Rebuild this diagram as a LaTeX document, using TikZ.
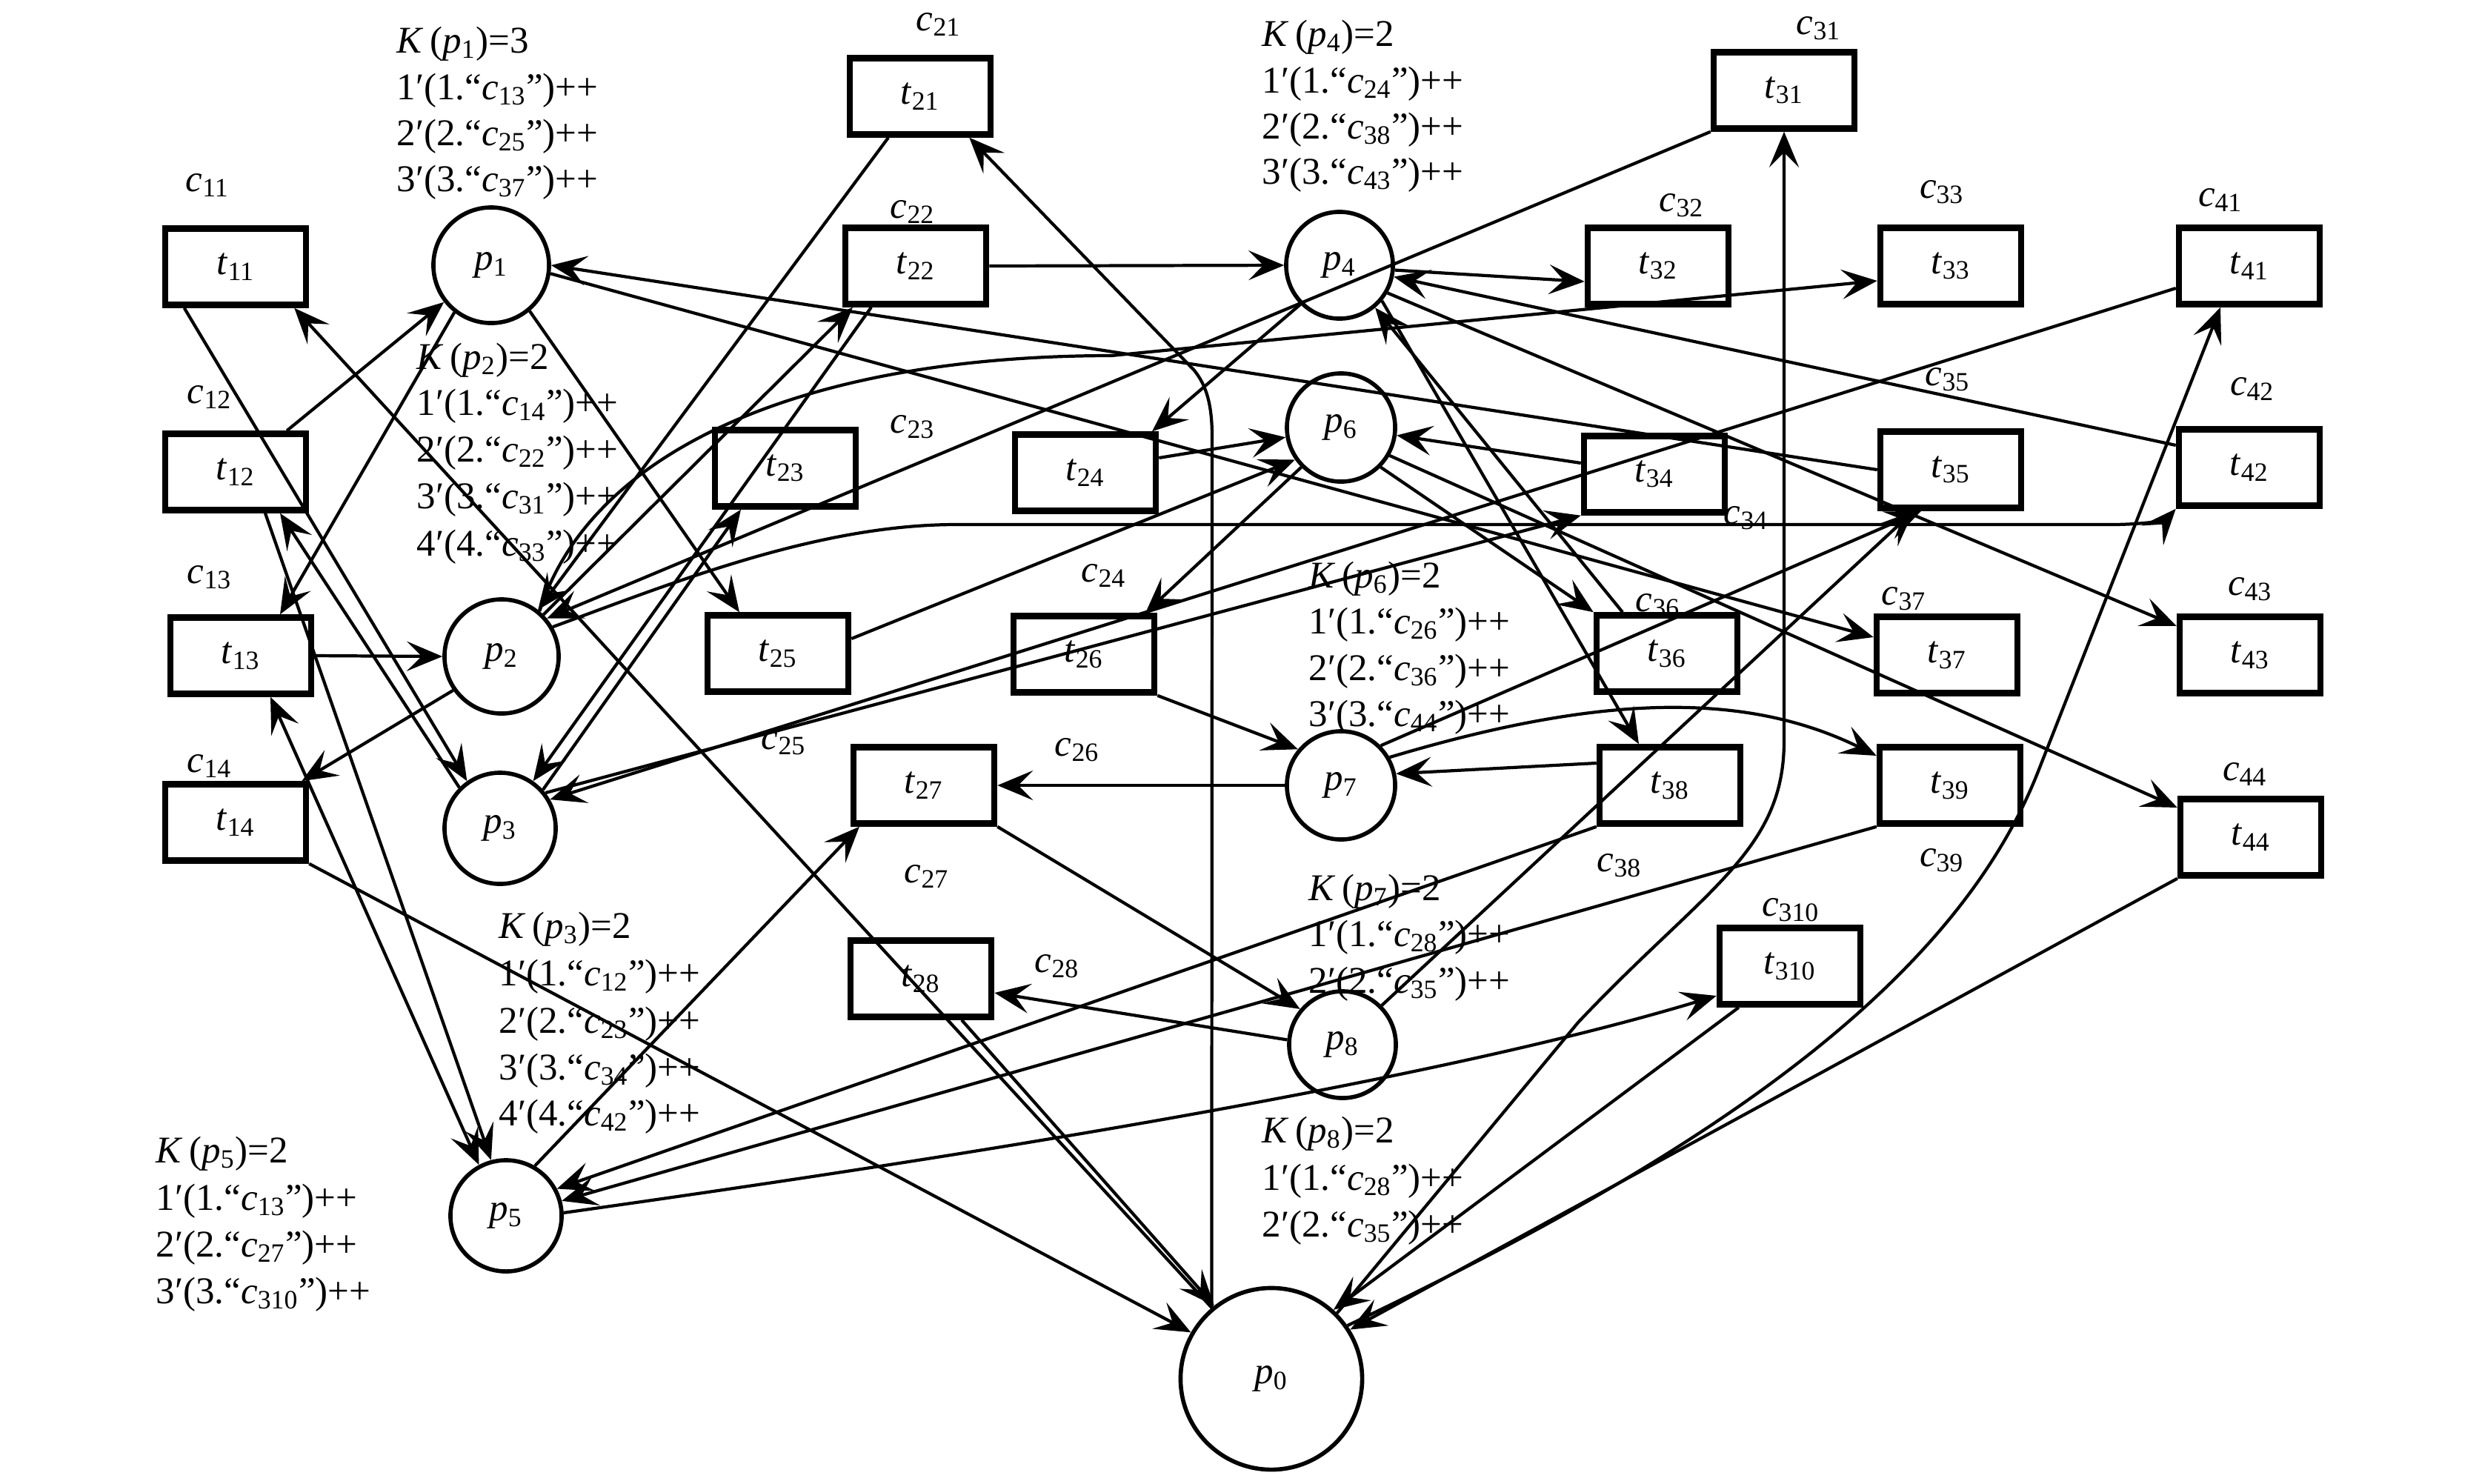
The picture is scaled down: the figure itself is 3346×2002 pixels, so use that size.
\documentclass[tikz,border=0pt]{standalone}
\usepackage{fontspec}
\setmainfont{Liberation Serif}
\usetikzlibrary{arrows.meta}
\newcommand\Tn[1]{\textit{t}\textsubscript{#1}}
\newcommand\Pn[1]{\textit{p}\textsubscript{#1}}
\newcommand\Cn[1]{\textit{c}\textsubscript{#1}}
\newcommand\Kl[2]{\textit{K}\,(\textit{p}\textsubscript{#1})=#2}
\newcommand\Ml[2]{#1′(#1.“\textit{c}\textsubscript{#2}”)++}
\begin{document}
\begin{tikzpicture}[x=0.01cm,y=-0.01cm,
  every node/.style={font=\fontsize{14.5}{17}\selectfont},
  trans/.style={draw, line width=2.4pt, minimum width=1.9cm, minimum height=1.03cm, inner sep=0pt},
  place/.style={draw, circle, line width=1.6pt, minimum size=1.5cm, inner sep=0pt},
  lab/.style={inner sep=0pt},
  ktxt/.style={anchor=base west, inner sep=0pt},
  arr/.style={line width=1.2pt, -{Stealth[length=0.48cm,width=0.4cm,inset=0.2cm]}},
  arrb/.style={line width=1.2pt, {Stealth[length=0.48cm,width=0.4cm,inset=0.2cm]}-{Stealth[length=0.48cm,width=0.4cm,inset=0.2cm]}}]
\useasboundingbox (0,0) rectangle (3346,2002);
\fill[white] (0,0) rectangle (3346,2002);
% transitions
\node[trans] (t11) at (318,360) {\Tn{11}};
\node[trans] (t12) at (318,637) {\Tn{12}};
\node[trans] (t13) at (325,885) {\Tn{13}};
\node[trans] (t14) at (318,1110) {\Tn{14}};
\node[trans] (t21) at (1242,130) {\Tn{21}};
\node[trans] (t22) at (1236,359) {\Tn{22}};
\node[trans] (t23) at (1060,632) {\Tn{23}};
\node[trans] (t24) at (1465,638) {\Tn{24}};
\node[trans] (t25) at (1050,882) {\Tn{25}};
\node[trans] (t26) at (1463,883) {\Tn{26}};
\node[trans] (t27) at (1247,1060) {\Tn{27}};
\node[trans] (t28) at (1243,1321) {\Tn{28}};
\node[trans] (t31) at (2408,122) {\Tn{31}};
\node[trans] (t32) at (2238,359) {\Tn{32}};
\node[trans] (t33) at (2633,359) {\Tn{33}};
\node[trans] (t34) at (2233,640) {\Tn{34}};
\node[trans] (t35) at (2633,634) {\Tn{35}};
\node[trans] (t36) at (2250,882) {\Tn{36}};
\node[trans] (t37) at (2628,884) {\Tn{37}};
\node[trans] (t38) at (2254,1060) {\Tn{38}};
\node[trans] (t39) at (2632,1060) {\Tn{39}};
\node[trans] (t310) at (2416,1304) {\Tn{310}};
\node[trans] (t41) at (3036,359) {\Tn{41}};
\node[trans] (t42) at (3036,631) {\Tn{42}};
\node[trans] (t43) at (3037,884) {\Tn{43}};
\node[trans] (t44) at (3038,1130) {\Tn{44}};
% places
\node[place, minimum size=1.56cm] (p1) at (663,358) {\Pn{1}};
\node[place, minimum size=1.54cm] (p2) at (677,886) {\Pn{2}};
\node[place] (p3) at (675,1118) {\Pn{3}};
\node[place] (p5) at (683,1641) {\Pn{5}};
\node[place, minimum size=1.44cm] (p4) at (1808,358) {\Pn{4}};
\node[place, minimum size=1.46cm] (p6) at (1810,577) {\Pn{6}};
\node[place, minimum size=1.46cm] (p7) at (1810,1060) {\Pn{7}};
\node[place, minimum size=1.44cm] (p8) at (1812,1410) {\Pn{8}};
\node[place, minimum size=2.45cm] (p0) at (1716,1861) {\Pn{0}};
% colour labels
\node[lab] (c11) at (280,250) {\Cn{11}};
\node[lab] (c12) at (283,536) {\Cn{12}};
\node[lab] (c13) at (283,779) {\Cn{13}};
\node[lab] (c14) at (283,1034) {\Cn{14}};
\node[lab] (c21) at (1267,33) {\Cn{21}};
\node[lab] (c22) at (1232,286) {\Cn{22}};
\node[lab] (c23) at (1232,576) {\Cn{23}};
\node[lab] (c24) at (1490,777) {\Cn{24}};
\node[lab] (c25) at (1058,1003) {\Cn{25}};
\node[lab] (c26) at (1454,1012) {\Cn{26}};
\node[lab] (c27) at (1251,1183) {\Cn{27}};
\node[lab] (c28) at (1427,1304) {\Cn{28}};
\node[lab] (c31) at (2455,38) {\Cn{31}};
\node[lab] (c32) at (2270,277) {\Cn{32}};
\node[lab] (c33) at (2621,259) {\Cn{33}};
\node[lab] (c34) at (2357,699) {\Cn{34}};
\node[lab] (c35) at (2629,512) {\Cn{35}};
\node[lab] (c36) at (2238,817) {\Cn{36}};
\node[lab] (c37) at (2570,808) {\Cn{37}};
\node[lab] (c38) at (2186,1168) {\Cn{38}};
\node[lab] (c39) at (2621,1161) {\Cn{39}};
\node[lab] (c310) at (2417,1228) {\Cn{310}};
\node[lab] (c41) at (2997,270) {\Cn{41}};
\node[lab] (c42) at (3040,525) {\Cn{42}};
\node[lab] (c43) at (3037,795) {\Cn{43}};
\node[lab] (c44) at (3030,1045) {\Cn{44}};
% capacity / marking texts
\node[ktxt] (k1a) at (535,71) {\Kl{1}{3}};
\node[ktxt] (k1b) at (535,134) {\Ml{1}{13}};
\node[ktxt] (k1c) at (535,196) {\Ml{2}{25}};
\node[ktxt] (k1d) at (535,258) {\Ml{3}{37}};
\node[ktxt] (k2a) at (562,498) {\Kl{2}{2}};
\node[ktxt] (k2b) at (562,560) {\Ml{1}{14}};
\node[ktxt] (k2c) at (562,623) {\Ml{2}{22}};
\node[ktxt] (k2d) at (562,686) {\Ml{3}{31}};
\node[ktxt] (k2e) at (562,750) {\Ml{4}{33}};
\node[ktxt] (k3a) at (673,1266) {\Kl{3}{2}};
\node[ktxt] (k3b) at (673,1330) {\Ml{1}{12}};
\node[ktxt] (k3c) at (673,1394) {\Ml{2}{23}};
\node[ktxt] (k3d) at (673,1457) {\Ml{3}{34}};
\node[ktxt] (k3e) at (673,1519) {\Ml{4}{42}};
\node[ktxt] (k4a) at (1703,62) {\Kl{4}{2}};
\node[ktxt] (k4b) at (1703,125) {\Ml{1}{24}};
\node[ktxt] (k4c) at (1703,187) {\Ml{2}{38}};
\node[ktxt] (k4d) at (1703,248) {\Ml{3}{43}};
\node[ktxt] (k5a) at (210,1569) {\Kl{5}{2}};
\node[ktxt] (k5b) at (210,1633) {\Ml{1}{13}};
\node[ktxt] (k5c) at (210,1696) {\Ml{2}{27}};
\node[ktxt] (k5d) at (210,1759) {\Ml{3}{310}};
\node[ktxt] (k6a) at (1766,793) {\Kl{6}{2}};
\node[ktxt] (k6b) at (1766,855) {\Ml{1}{26}};
\node[ktxt] (k6c) at (1766,918) {\Ml{2}{36}};
\node[ktxt] (k6d) at (1766,980) {\Ml{3}{44}};
\node[ktxt] (k7a) at (1766,1215) {\Kl{7}{2}};
\node[ktxt] (k7b) at (1766,1277) {\Ml{1}{28}};
\node[ktxt] (k7c) at (1766,1340) {\Ml{2}{35}};
\node[ktxt] (k8a) at (1703,1542) {\Kl{8}{2}};
\node[ktxt] (k8b) at (1703,1606) {\Ml{1}{28}};
\node[ktxt] (k8c) at (1703,1669) {\Ml{2}{35}};
% arcs of p0
\draw[arr] (p0.130) -- ([xshift=-0.2cm]t11.south east);
\draw[arr] (p0.130) -- (1636,590) .. controls (1636,545) and (1628,520) .. (1612,500) -- ([xshift=-0.33cm]t21.south east);
\draw[arr] (p0.45) -- (2130,1380) .. controls (2300,1200) and (2408,1150) .. (2408,1000) -- (t31.south);
\draw[arr] (p0.35) .. controls (2300,1560) and (2640,1330) .. (2753,1036) -- ([xshift=-0.39cm]t41.south);
\draw[arr] (t14.south east) -- (p0.150);
\draw[arr] ([xshift=0.55cm]t28.south) -- (p0.128);
\draw[arr] ([xshift=0.3cm]t310.south west) -- (p0.48);
\draw[arr] (t44.south west) -- (p0.32);
% left part
\draw[arr] ([xshift=0.3cm]t11.south west) -- (p3.125);
\draw[arr] (p3.135) -- ([xshift=0.6cm]t12.south);
\draw[arr] ([xshift=-0.3cm]t12.north east) -- (p1.218);
\draw[arr] (p1.232) -- ([xshift=0.53cm]t13.north);
\draw[arr] ([xshift=0.4cm]t12.south) -- (p5.105);
\draw[arrb] ([xshift=0.4cm]t13.south) -- (p5.118);
\draw[arr] (t13.east) -- (p2.west);
\draw[arr] (p2.215) -- ([xshift=-0.1cm]t14.north east);
% process 2
\draw[arr] ([xshift=-0.43cm]t21.south) -- (p2.52);
\draw[arr] (p2.45) -- ([xshift=-0.85cm]t22.south);
\draw[arr] (t22.east) -- (p4.west);
\draw[arr] ([xshift=-0.6cm]t22.south) -- (p3.55);
\draw[arr] (p3.42) -- ([xshift=-0.6cm]t23.south);
\draw[arr] (t31.south west) -- (p2.40);
\draw[arr] (p4.225) -- ([xshift=0.9cm]t24.north);
\draw[arr] (p1.-50) -- ([xshift=-0.52cm]t25.north);
\draw[arr] ([yshift=0.2cm]t24.east) -- (p6.190);
\draw[arr] ([yshift=0.2cm]t25.east) -- (p6.215);
\draw[arr] (p6.225) -- ([xshift=0.83cm]t26.north);
\draw[arr] (t26.south east) -- (p7.140);
\draw[arr] (p7.west) -- (t27.east);
\draw[arr] (t27.south east) -- (p8.140);
\draw[arr] (p8.175) -- ([yshift=-0.19cm]t28.east);
\draw[arr] (p5.60) -- ([xshift=-0.87cm]t27.south);
\draw[arr] (p5.3) .. controls (1200,1575) and (1900,1470) .. ([yshift=-0.4cm]t310.west);
% process 3
\draw[arr] (p4.-5) -- ([yshift=-0.21cm]t32.west);
\draw[arr] (p2.50) .. controls (800,600) and (1100,480) .. (1500,480) -- ([yshift=-0.2cm]t33.west);
\draw[arr] (p3.38) -- (t34.south west);
\draw[arr] ([yshift=0.15cm]t34.west) -- (p6.-8);
\draw[arr] (t35.west) -- (p1.0);
\draw[arr] (p6.-45) -- (t36.north west);
\draw[arr] ([xshift=-0.6cm]t36.north) -- (p4.-50);
\draw[arr] (p4.-40) -- ([xshift=-0.42cm]t38.north);
\draw[arr] (p1.-8) -- ([yshift=0.24cm]t37.west);
\draw[arr] ([yshift=0.3cm]t38.west) -- (p7.12);
\draw[arr] (t38.south west) -- (p5.28);
\draw[arr] (t39.south west) -- (p5.15);
\draw[arr] (p7.30) .. controls (2150,940) and (2350,930) .. ([yshift=0.4cm]t39.west);
\draw[arr] (p7.45) -- ([xshift=-0.4cm]t35.south);
\draw[arr] (p8.45) -- ([xshift=-0.5cm]t35.south);
% process 4
\draw[arr] (p2.30) .. controls (900,790) and (1100,708) .. (1290,708) -- (2850,708) .. controls (2900,708) and (2925,700) .. (t42.south west);
\draw[arr] ([yshift=0.3cm]t42.west) -- (p4.-12);
\draw[arr] (p4.-30) -- ([yshift=0.39cm]t43.west);
\draw[arr] (p6.-30) -- ([yshift=0.4cm]t44.west);
\draw[arr] ([yshift=-0.3cm]t41.west) -- (p3.30);
\end{tikzpicture}
\end{document}
